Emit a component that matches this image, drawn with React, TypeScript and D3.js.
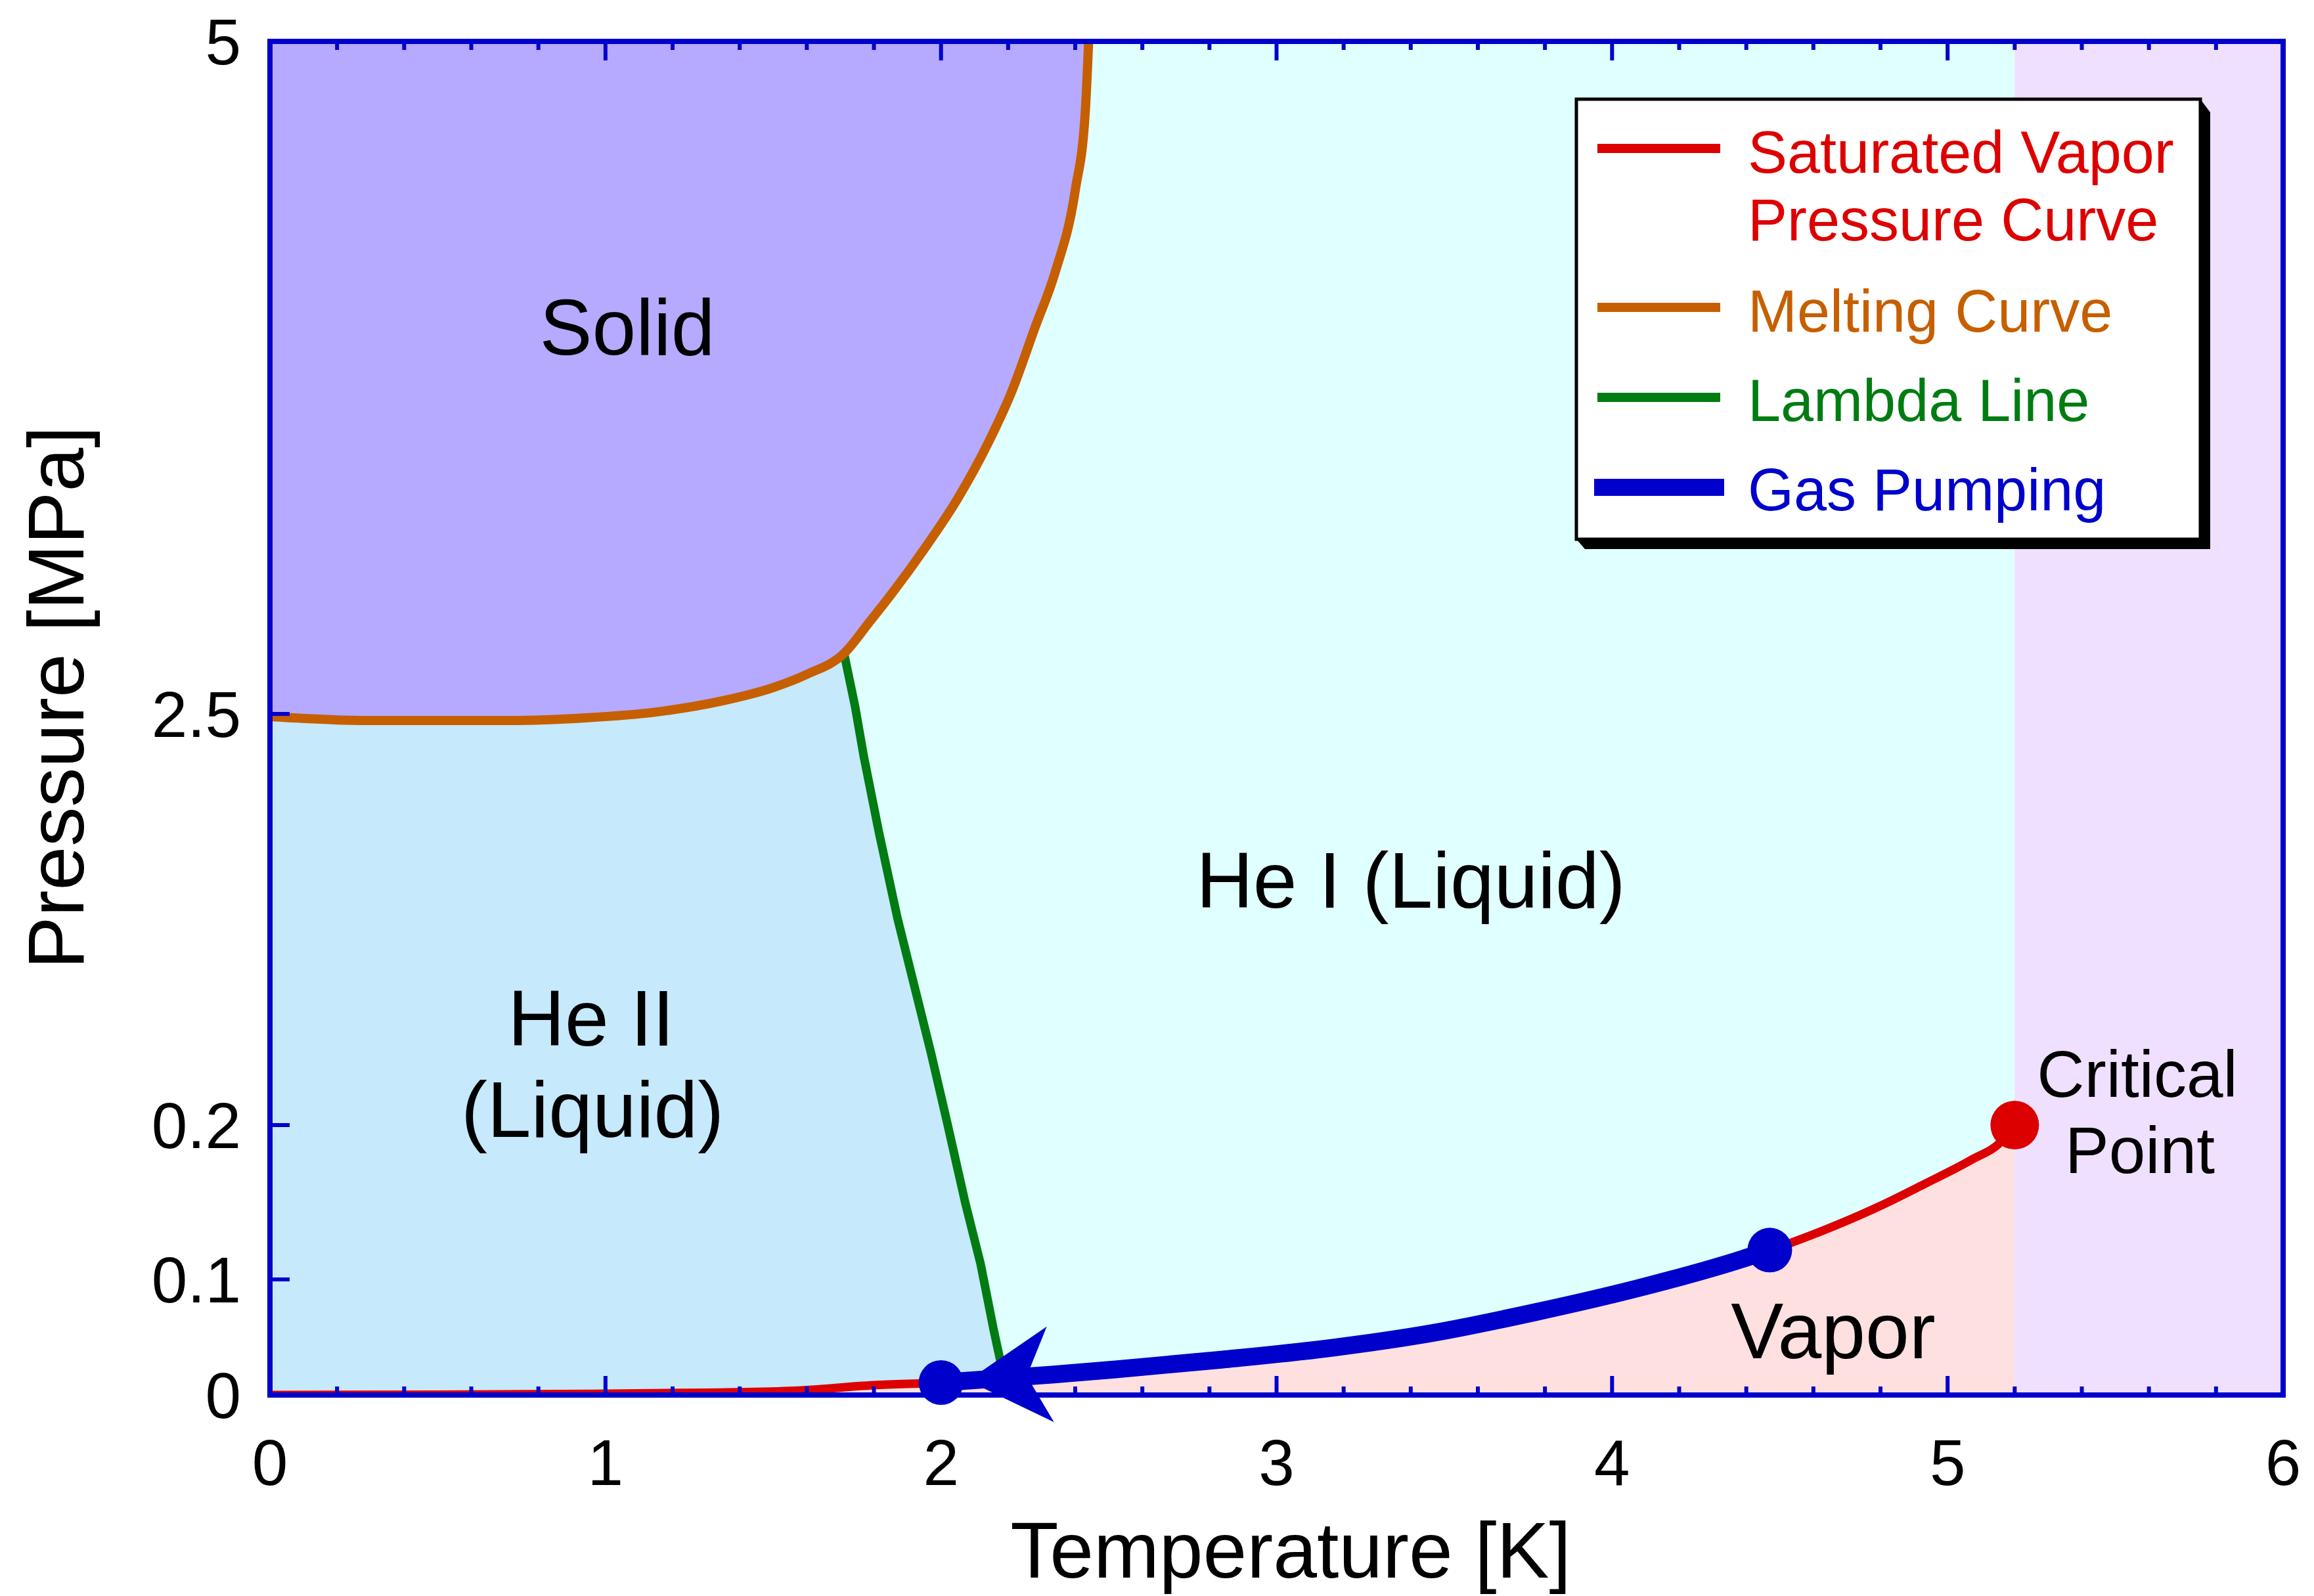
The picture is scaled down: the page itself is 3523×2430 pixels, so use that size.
import React from 'react';
import * as d3 from 'd3';

// helium phase diagram
const TEMP_TICKS = [0, 1, 2, 3, 4, 5, 6];
const PRESSURE_TICKS = [0, 0.1, 0.2, 2.5, 5];
const PRESSURE_LABELS = ['0', '0.1', '0.2', '2.5', '5'];

// melting curve (solid / liquid boundary)
const meltT = [0, 0.29, 0.72, 0.94, 1.15, 1.35, 1.5, 1.6, 1.711, 1.79, 1.85, 1.95, 2.05, 2.14, 2.21, 2.28, 2.34, 2.4, 2.43, 2.44];
const meltP = [2.485, 2.463, 2.463, 2.478, 2.507, 2.549, 2.598, 2.647, 2.725, 2.847, 2.942, 3.113, 3.301, 3.506, 3.696, 3.936, 4.141, 4.446, 4.739, 5.0];

// lambda line (He I / He II boundary)
const lambdaT = [1.711, 1.744, 1.77, 1.815, 1.87, 1.915, 1.971, 2.016, 2.073, 2.118, 2.157, 2.173, 2.19];
const lambdaP = [2.725, 2.527, 2.261, 1.838, 1.359, 1.02, 0.597, 0.233, 0.149, 0.11, 0.0563, 0.0347, 0.012];

// saturated vapor pressure curve
const svpT = [0, 0.5, 0.96, 1.3, 1.55, 1.8, 2.0, 2.33, 2.52, 2.84, 3.15, 3.46, 3.77, 4.08, 4.37, 4.47, 4.53, 4.67, 4.8, 4.93, 5.07, 5.16, 5.2];
const svpP = [0, 0.0003, 0.001, 0.002, 0.0035, 0.0085, 0.0108, 0.0176, 0.0222, 0.0307, 0.0403, 0.0534, 0.0716, 0.0926, 0.112, 0.119, 0.1235, 0.1353, 0.1477, 0.1617, 0.1774, 0.1894, 0.2];

// gas pumping path along the vapor curve (from 4.47 K down to 2 K)
const pumpT = [2.0, 2.33, 2.52, 2.84, 3.15, 3.46, 3.77, 4.08, 4.37, 4.47];
const pumpP = [0.0108, 0.0176, 0.0222, 0.0307, 0.0403, 0.0534, 0.0716, 0.0926, 0.112, 0.119];

const criticalT = 5.2;
const criticalP = 0.2;
const arrowT = 2.08;

const legendNames = [['Saturated Vapor', 'Pressure Curve'], ['Melting Curve'], ['Lambda Line'], ['Gas Pumping']];

const RED = '#dd0000';
const ORANGE = '#c65f00';
const GREEN = '#007c12';
const BLUE = '#0000cc';
const FONT = '"Liberation Sans", Arial, Helvetica, sans-serif';

const W = 3523, H = 2430;
const P = {left: 411, right: 3476, top: 63, bottom: 2124};

const zip = (a: number[], b: number[]) => a.map((v, i) => [v, b[i]] as [number, number]);

export default function App() {
  const x = d3.scaleLinear().domain([0, 6]).range([P.left, P.right]);
  // the pressure axis is broken into linear pieces
  const y = d3.scaleLinear().domain(PRESSURE_TICKS).range([P.bottom, 1948, 1713, 1087, P.top]);

  const melt = zip(meltT, meltP);
  const lambda = zip(lambdaT, lambdaP);
  const svp = zip(svpT, svpP);
  const pump = zip(pumpT, pumpP);

  const smooth = d3.line<[number, number]>().x(d => x(d[0])).y(d => y(d[1])).curve(d3.curveMonotoneX);
  const straight = d3.line<[number, number]>().x(d => x(d[0])).y(d => y(d[1]));

  const solidArea = d3.area<[number, number]>().x(d => x(d[0])).y0(y(5)).y1(d => y(d[1])).curve(d3.curveMonotoneX);
  const vaporArea = d3.area<[number, number]>().x(d => x(d[0])).y0(y(0)).y1(d => y(d[1])).curve(d3.curveMonotoneX);

  const heII = [
    ...melt.filter(d => d[0] < lambdaT[0]),
    ...lambda,
    ...svp.filter(d => d[0] < lambdaT[lambdaT.length - 1]).reverse(),
  ];

  // arrow head on the pumping line, pointing to lower temperature
  const onSvp = d3.scaleLinear().domain(svpT).range(svpP);
  const tip = [x(arrowT), y(onSvp(arrowT))];
  const back = [x(2.5), y(onSvp(2.5))];
  const ang = Math.atan2(back[1] - tip[1], back[0] - tip[0]);
  const ux = Math.cos(ang), uy = Math.sin(ang);
  const nx = -uy, ny = ux;
  const arrowPts = [
    [tip[0], tip[1]],
    [tip[0] + ux * 126 + nx * 73, tip[1] + uy * 126 + ny * 73],
    [tip[0] + ux * 90, tip[1] + uy * 90],
    [tip[0] + ux * 126 - nx * 73, tip[1] + uy * 126 - ny * 73],
  ];

  const minor = d3.range(0, 30.5).map(i => i * 0.2);

  const lg = {x0: 2400, y0: 151, x1: 3350, y1: 821};
  const legendLines = [
    {c: RED, w: 14, y: 226, ty: [263, 366]},
    {c: ORANGE, w: 14, y: 468, ty: [505]},
    {c: GREEN, w: 14, y: 605, ty: [641]},
    {c: BLUE, w: 26, y: 742, ty: [777]},
  ];

  return (
    <svg width={W} height={H} style={{position: 'absolute', left: 0, top: 0, background: '#fff'}} fontFamily={FONT}>
      <defs>
        <clipPath id="plot">
          <rect x={P.left} y={P.top} width={P.right - P.left} height={P.bottom - P.top}/>
        </clipPath>
      </defs>

      <g clipPath="url(#plot)">
        <rect x={P.left} y={P.top} width={P.right - P.left} height={P.bottom - P.top} fill="#e0ffff"/>
        <rect x={x(criticalT)} y={P.top} width={x(6) - x(criticalT)} height={P.bottom - P.top} fill="#f0e0ff"/>
        <path d={vaporArea(svp) || ''} fill="#ffe0e0"/>
        <path d={solidArea(melt) || ''} fill="#b5aaff"/>
        <path d={(straight(heII) || '') + 'Z'} fill="#c6e9fc"/>

        <path d={smooth(svp) || ''} fill="none" stroke={RED} strokeWidth={13}/>
        <path d={straight(lambda) || ''} fill="none" stroke={GREEN} strokeWidth={13}/>
        <path d={smooth(melt) || ''} fill="none" stroke={ORANGE} strokeWidth={14}/>
        <path d={smooth(pump) || ''} fill="none" stroke={BLUE} strokeWidth={27}/>
      </g>

      {/* frame and ticks */}
      <g stroke={BLUE} strokeWidth={6}>
        {minor.map((t, i) => {
          const len = i % 5 === 0 ? 29 : 13;
          return (
            <g key={i}>
              <line x1={x(t)} x2={x(t)} y1={P.bottom} y2={P.bottom - len}/>
              <line x1={x(t)} x2={x(t)} y1={P.top} y2={P.top + len}/>
            </g>
          );
        })}
        {PRESSURE_TICKS.map(p => (
          <line key={p} x1={P.left} x2={P.left + 30} y1={y(p)} y2={y(p)}/>
        ))}
      </g>
      <rect x={P.left} y={P.top} width={P.right - P.left} height={P.bottom - P.top} fill="none" stroke={BLUE} strokeWidth={8}/>

      {/* markers */}
      <polygon points={arrowPts.map(p => p.join(',')).join(' ')} fill={BLUE}/>
      <circle cx={x(pumpT[0])} cy={y(pumpP[0])} r={34} fill={BLUE}/>
      <circle cx={x(pumpT[pumpT.length - 1])} cy={y(pumpP[pumpP.length - 1])} r={34} fill={BLUE}/>
      <circle cx={x(criticalT)} cy={y(criticalP)} r={37} fill={RED}/>

      {/* tick labels */}
      <g fontSize={98} fill="#000">
        {TEMP_TICKS.map(t => (
          <text key={t} x={x(t)} y={2261} textAnchor="middle">{t}</text>
        ))}
        {PRESSURE_TICKS.map((p, i) => (
          <text key={p} x={367} y={y(p) + 35} textAnchor="end">{PRESSURE_LABELS[i]}</text>
        ))}
      </g>

      {/* axis titles */}
      <text x={1965} y={2402} fontSize={120} textAnchor="middle">Temperature [K]</text>
      <text transform="translate(127,1062) rotate(-90)" fontSize={120} textAnchor="middle">Pressure [MPa]</text>

      {/* region labels */}
      <g fontSize={120} textAnchor="middle" fill="#000">
        <text x={955} y={540}>Solid</text>
        <text x={2148} y={1382}>He I (Liquid)</text>
        <text x={900} y={1592}>He II</text>
        <text x={902} y={1731}>(Liquid)</text>
        <text x={2791} y={2068}>Vapor</text>
      </g>
      <g fontSize={100} textAnchor="middle" fill="#000">
        <text x={3254} y={1670}>Critical</text>
        <text x={3258} y={1786}>Point</text>
      </g>

      {/* legend */}
      <polygon
        points={[[lg.x1, lg.y0], [lg.x1 + 15, lg.y0 + 20], [lg.x1 + 15, lg.y1 + 15], [lg.x0 + 13, lg.y1 + 15], [lg.x0, lg.y1]].map(p => p.join(',')).join(' ')}
        fill="#000"/>
      <rect x={lg.x0} y={lg.y0} width={lg.x1 - lg.x0} height={lg.y1 - lg.y0} fill="#fff" stroke="#000" strokeWidth={5}/>
      {legendLines.map((l, i) => (
        <g key={i}>
          <line x1={l.w > 20 ? 2427 : 2432} x2={l.w > 20 ? 2625 : 2619} y1={l.y} y2={l.y} stroke={l.c} strokeWidth={l.w}/>
          {legendNames[i].map((s, j) => (
            <text key={j} x={2661} y={l.ty[j]} fontSize={90} fill={l.c}>{s}</text>
          ))}
        </g>
      ))}
    </svg>
  );
}
